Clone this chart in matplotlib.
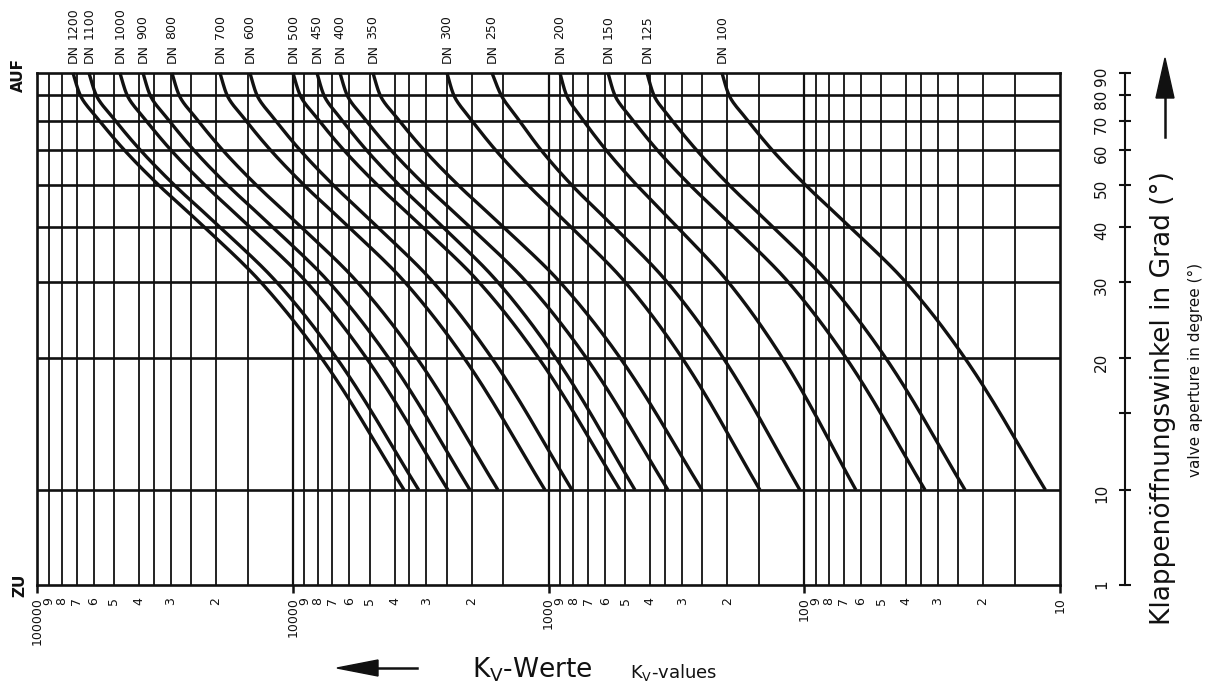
import numpy as np
import matplotlib
matplotlib.use("Agg")
import matplotlib.pyplot as plt
from matplotlib.patches import Polygon
from matplotlib.lines import Line2D
from matplotlib.ticker import FixedLocator, FixedFormatter, NullLocator

W, H = 1205, 686

# ---------------- data ----------------
angles = [10, 20, 30, 40, 50, 60, 70, 80, 90]
dn_names = ["1200", "1100", "1000", "900", "800", "700", "600", "500", "450",
            "400", "350", "300", "250", "200", "150", "125", "100"]

kv_dn1200 = [3670, 7700, 13400, 22200, 33600, 45600, 57000, 67700, 72300]
kv_dn1100 = [3216, 6720, 11620, 19300, 29180, 39490, 49360, 58640, 62620]
kv_dn1000 = [2472, 5139, 8875, 14710, 22170, 29980, 37410, 44390, 47380]
kv_dn900 = [2027, 4207, 7254, 12000, 18080, 24400, 30420, 36090, 38500]
kv_dn800 = [1576, 3262, 5617, 9274, 13950, 18820, 23450, 27800, 29660]
kv_dn700 = [1032, 2132, 3663, 6042, 9078, 12230, 15230, 18050, 19250]
kv_dn600 = [809, 1662, 2840, 4663, 6973, 9376, 11650, 13790, 14700]
kv_dn500 = [525, 1090, 1880, 3110, 4684, 6322, 7880, 9352, 9977]
kv_dn450 = [459, 934, 1586, 2588, 3852, 5157, 6396, 7549, 8038]
kv_dn400 = [341, 709, 1225, 2029, 3059, 4136, 5161, 6124, 6535]
kv_dn350 = [251, 523, 906, 1502, 2267, 3068, 3831, 4550, 4855]
kv_dn300 = [149, 299.5, 504, 817, 1209, 1612, 1991, 2344, 2494]
kv_dn250 = [104, 206.8, 345, 554, 815, 1070, 1300, 1530, 1663]
kv_dn200 = [62.8, 121.5, 199, 314, 454, 596, 729, 850, 902]
kv_dn150 = [33.7, 68.4, 116, 189, 281, 376, 466, 550, 585]
kv_dn125 = [23.5, 47.9, 81.3, 132.6, 197.4, 264, 328, 387, 412]
kv_dn100 = [11.4, 23.5, 40.3, 66.3, 99.3, 133.6, 166, 196.7, 209.7]

kv_curves = [kv_dn1200, kv_dn1100, kv_dn1000, kv_dn900, kv_dn800, kv_dn700,
             kv_dn600, kv_dn500, kv_dn450, kv_dn400, kv_dn350, kv_dn300,
             kv_dn250, kv_dn200, kv_dn150, kv_dn125, kv_dn100]

x_major = [100000, 10000, 1000, 100, 10]
x_major_labels = ["100000", "10000", "1000", "100", "10"]
x_minor_digits = [9, 8, 7, 6, 5, 4, 3, 2]
grid_mantissas = [1.5, 2, 2.5, 3, 3.5, 4, 5, 6, 7, 8, 9]
decades = [10, 100, 1000, 10000]
angle_grid = [10, 20, 30, 40, 50, 60, 70, 80]
right_ticks = [1, 10, 15, 20, 30, 40, 50, 60, 70, 80, 90]
right_labels = ["1", "10", "", "20", "30", "40", "50", "60", "70", "80", "90"]

# ---------------- scale: log above 10 deg, compressed linear 1..10 ----------------
K = 95.0 / 437.0


def fwd(y):
    y = np.asarray(y, dtype=float)
    hi = np.log10(np.maximum(np.where(np.isfinite(y), y, 10.0), 10.0))
    lo = 1.0 - (10.0 - y) / 9.0 * K
    return np.where(y >= 10, hi, lo)


def inv(t):
    t = np.asarray(t, dtype=float)
    hi = 10.0 ** np.clip(t, 1.0, 12.0)
    lo = 10.0 - (1.0 - t) * 9.0 / K
    return np.where(t >= 1, hi, lo)


def smooth_curve(kv, ang, n_per=24):
    """Monotone cubic (PCHIP) drawing path through the read points, built in the
    plotted (log Kv, scaled angle) space."""
    x = fwd(ang)
    y = np.log10(np.asarray(kv, dtype=float))
    h = np.diff(x)
    d = np.diff(y) / h
    m = np.zeros_like(y)
    for k in range(1, len(y) - 1):
        if d[k - 1] * d[k] <= 0:
            m[k] = 0.0
        else:
            w1 = 2 * h[k] + h[k - 1]
            w2 = h[k] + 2 * h[k - 1]
            m[k] = (w1 + w2) / (w1 / d[k - 1] + w2 / d[k])
    m[0] = d[0]
    m[-1] = d[-1]
    xs, ys = [], []
    for k in range(len(h)):
        s = np.linspace(0, 1, n_per, endpoint=(k == len(h) - 1))
        h00 = 2 * s**3 - 3 * s**2 + 1
        h10 = s**3 - 2 * s**2 + s
        h01 = -2 * s**3 + 3 * s**2
        h11 = s**3 - s**2
        xs.append(x[k] + s * h[k])
        ys.append(h00 * y[k] + h10 * h[k] * m[k] + h01 * y[k + 1] + h11 * h[k] * m[k + 1])
    return 10 ** np.concatenate(ys), inv(np.concatenate(xs))


INK = "#111111"
plt.rcParams["font.family"] = ["DejaVu Sans"]

fig = plt.figure(figsize=(W / 100, H / 100), dpi=100)
fig.patch.set_facecolor("white")


def fx(px):
    return px / W


def fy(py):
    return 1 - py / H


L, R, T, B = 37, 1060, 73, 585
ax = fig.add_axes([fx(L), fy(B), (R - L) / W, (B - T) / H])
ax.set_xscale("log")
ax.set_yscale("function", functions=(fwd, inv))
ax.set_xlim(100000, 10)
ax.set_ylim(1, 90)

for s in ax.spines.values():
    s.set_linewidth(1.9)
    s.set_color(INK)

# grid
for d in decades:
    for m in grid_mantissas:
        ax.axvline(m * d, color=INK, lw=1.3, zorder=1)
    if d > 10:
        ax.axvline(d, color=INK, lw=1.6, zorder=1)
for a in angle_grid:
    ax.axhline(a, color=INK, lw=1.9, zorder=1)

# curves
for kv in kv_curves:
    cx, cy = smooth_curve(kv, angles)
    ax.plot(cx, cy, color=INK, lw=2.4, solid_joinstyle="round",
            solid_capstyle="butt", zorder=3, clip_on=False)

# x ticks
ax.xaxis.set_major_locator(FixedLocator(x_major))
ax.xaxis.set_major_formatter(FixedFormatter(x_major_labels))
minor_pos = []
minor_lab = []
for d in [10000, 1000, 100, 10]:
    for m in x_minor_digits:
        minor_pos.append(m * d)
        minor_lab.append(str(m))
ax.xaxis.set_minor_locator(FixedLocator(minor_pos))
ax.xaxis.set_minor_formatter(FixedFormatter(minor_lab))
ax.tick_params(axis="x", which="major", direction="out", length=6, width=1.8,
               pad=2.5, labelsize=9, labelrotation=90, color=INK, labelcolor=INK)
ax.tick_params(axis="x", which="minor", length=0, pad=8.5, labelsize=9,
               labelrotation=90, labelcolor=INK)
ax.yaxis.set_visible(False)

# DN labels at curve tops
xt = ax.get_xaxis_transform()
for name, kv in zip(dn_names, kv_curves):
    ax.text(kv[-1], (B - 63) / (B - T), "DN", rotation=90, ha="center", va="bottom",
            fontsize=9, transform=xt, clip_on=False, color=INK)
    ax.text(kv[-1], (B - 39) / (B - T), name, rotation=90, ha="center", va="bottom",
            fontsize=9, transform=xt, clip_on=False, color=INK)

# AUF / ZU
fig.text(fx(18), fy(75), "AUF", rotation=90, ha="center", va="center",
         fontsize=11, fontweight="bold", color=INK)
fig.text(fx(20), fy(585), "ZU", rotation=90, ha="center", va="center",
         fontsize=11, fontweight="bold", color=INK)

# right-hand angle axis
ax2 = fig.add_axes([fx(1125), fy(B), 0.0001, (B - T) / H])
ax2.set_yscale("function", functions=(fwd, inv))
ax2.set_ylim(1, 90)
ax2.patch.set_visible(False)
for k, s in ax2.spines.items():
    s.set_visible(k == "left")
ax2.spines["left"].set_linewidth(1.5)
ax2.spines["left"].set_color(INK)
ax2.xaxis.set_visible(False)
ax2.yaxis.set_major_locator(FixedLocator(right_ticks))
ax2.yaxis.set_major_formatter(FixedFormatter(right_labels))
ax2.yaxis.set_minor_locator(NullLocator())
ax2.tick_params(axis="y", direction="inout", length=9, width=1.5, pad=7,
                labelsize=11, labelrotation=90, color=INK, labelcolor=INK)

fig.text(fx(1163), fy(398), "Klappenöffnungswinkel in Grad (°)", rotation=90,
         ha="center", va="center", fontsize=19, color=INK)
fig.text(fx(1195), fy(370), "valve aperture in degree (°)", rotation=90,
         ha="center", va="center", fontsize=11, color=INK)

# arrows
def arrow(tip, base_c, half_w, tail):
    (tx, ty), (bx, by), (sx, sy) = tip, base_c, tail
    if tx == bx:  # vertical
        pts = [(tx, ty), (bx - half_w, by), (bx + half_w, by)]
    else:
        pts = [(tx, ty), (bx, by - half_w), (bx, by + half_w)]
    fig.add_artist(Polygon([(fx(a), fy(b)) for a, b in pts], closed=True,
                           transform=fig.transFigure, facecolor=INK, edgecolor=INK, lw=1))
    fig.add_artist(Line2D([fx(bx), fx(sx)], [fy(by), fy(sy)], transform=fig.transFigure,
                          color=INK, lw=1.8))


arrow((1165, 58), (1165, 98), 9, (1165, 137))
arrow((337, 668), (378, 668), 8, (417, 668))

fig.text(fx(472), fy(678), r"K$_\mathrm{V}$-Werte", ha="left", va="baseline",
         fontsize=19, color=INK)
fig.text(fx(630), fy(678), r"K$_\mathrm{V}$-values", ha="left", va="baseline",
         fontsize=13, color=INK)

fig.savefig("out.png", dpi=100, facecolor="white")
